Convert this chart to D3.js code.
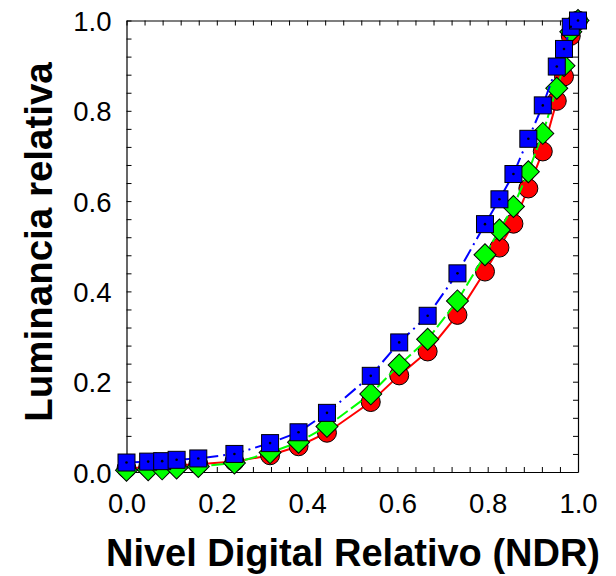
<!DOCTYPE html>
<html>
<head>
<meta charset="utf-8">
<script src="https://cdn.jsdelivr.net/npm/d3@7"></script>
<style>
  html, body { margin: 0; padding: 0; background: #fff; }
  svg { display: block; }
</style>
</head>
<body>
<svg id="chart" width="616" height="576"></svg>
<script>
// ---- data ----
const ndr   = [0, 0.048, 0.079, 0.111, 0.159, 0.239, 0.318, 0.381, 0.444, 0.541, 0.604, 0.667, 0.733, 0.794, 0.826, 0.857, 0.890, 0.922, 0.953, 0.969, 0.984, 1.0];
const red   = [0.008, 0.011, 0.013, 0.015, 0.017, 0.023, 0.037, 0.057, 0.087, 0.155, 0.214, 0.267, 0.348, 0.444, 0.497, 0.550, 0.628, 0.710, 0.822, 0.876, 0.966, 1.0];
const green = [0.004, 0.005, 0.007, 0.009, 0.012, 0.020, 0.043, 0.066, 0.101, 0.173, 0.237, 0.294, 0.379, 0.481, 0.536, 0.588, 0.665, 0.750, 0.850, 0.900, 0.975, 1.0];
const blue  = [0.021, 0.023, 0.024, 0.027, 0.030, 0.040, 0.064, 0.088, 0.131, 0.213, 0.287, 0.346, 0.440, 0.549, 0.604, 0.660, 0.738, 0.812, 0.898, 0.937, 0.986, 1.0];
const tickValues = [0.0, 0.2, 0.4, 0.6, 0.8, 1.0];
const xTitle = "Nivel Digital Relativo (NDR)";
const yTitle = "Luminancia relativa";

// ---- layout ----
const svg = d3.select("#chart");
const pLeft = 126.5, pRight = 578, pTop = 20.5, pBottom = 472;
const x = d3.scaleLinear().domain([0, 1]).range([pLeft, pRight]);
const y = d3.scaleLinear().domain([0, 1]).range([pBottom, pTop]);
const minor = d3.range(0, 26).map(i => +(i * 0.04).toFixed(2));
const isMajor = d => tickValues.some(t => Math.abs(t - d) < 1e-9);
const fmt = d3.format(".1f");
const tickFont = "Liberation Sans, Arial, sans-serif";

// axes
const gx = svg.append("g").attr("transform", `translate(0,${pBottom})`)
  .call(d3.axisBottom(x).tickValues(minor).tickSize(-5).tickSizeOuter(0)
    .tickFormat(d => isMajor(d) ? fmt(d) : ""));
gx.selectAll("text").attr("y", 41).attr("dy", 0)
  .style("font-family", tickFont).style("font-size", "27.5px").attr("fill", "#000");

const gy = svg.append("g").attr("transform", `translate(${pLeft},0)`)
  .call(d3.axisLeft(y).tickValues(minor).tickSize(-5).tickSizeOuter(0)
    .tickFormat(d => isMajor(d) ? fmt(d) : ""));
gy.selectAll("text").attr("x", -15).attr("dy", 10)
  .style("font-family", tickFont).style("font-size", "27.5px").attr("fill", "#000");

svg.append("g").attr("transform", `translate(0,${pTop})`)
  .call(d3.axisTop(x).tickValues(minor).tickSize(-5).tickSizeOuter(0).tickFormat(""));
svg.append("g").attr("transform", `translate(${pRight},0)`)
  .call(d3.axisRight(y).tickValues(minor).tickSize(-5).tickSizeOuter(0).tickFormat(""));

svg.selectAll(".domain").attr("stroke", "#000").attr("stroke-width", 1.2);
svg.selectAll(".tick line").attr("stroke", "#000").attr("stroke-width", 1);

// titles
svg.append("text").attr("x", 353).attr("y", 566).attr("text-anchor", "middle")
  .style("font-family", tickFont).style("font-size", "38px").style("font-weight", "bold")
  .text(xTitle);
svg.append("text").attr("transform", "translate(52,242) rotate(-90)").attr("text-anchor", "middle")
  .style("font-family", tickFont).style("font-size", "38.5px").style("font-weight", "bold")
  .text(yTitle);

// ---- series ----
const line = d3.line().x(d => x(d[0])).y(d => y(d[1]));
const pts = vals => ndr.map((v, i) => [v, vals[i]]);

// red
svg.append("path").datum(pts(red)).attr("d", line)
  .attr("fill", "none").attr("stroke", "#ff0000").attr("stroke-width", 2);
svg.append("g").selectAll("circle").data(pts(red)).join("circle")
  .attr("cx", d => x(d[0])).attr("cy", d => y(d[1])).attr("r", 9.5)
  .attr("fill", "#ff0000").attr("stroke", "#000").attr("stroke-width", 1);

// green
svg.append("path").datum(pts(green)).attr("d", line)
  .attr("fill", "none").attr("stroke", "#00ff00").attr("stroke-width", 2)
  .attr("stroke-dasharray", "13,4");
svg.append("g").selectAll("path").data(pts(green)).join("path")
  .attr("d", d3.symbol(d3.symbolSquare, 242))
  .attr("transform", d => `translate(${x(d[0])},${y(d[1])}) rotate(45)`)
  .attr("fill", "#00ff00").attr("stroke", "#000").attr("stroke-width", 1);

// blue
svg.append("path").datum(pts(blue)).attr("d", line)
  .attr("fill", "none").attr("stroke", "#0000ff").attr("stroke-width", 2)
  .attr("stroke-dasharray", "14,5,2,5");
svg.append("g").selectAll("rect").data(pts(blue)).join("rect")
  .attr("x", d => x(d[0]) - 8.5).attr("y", d => y(d[1]) - 8.5)
  .attr("width", 17).attr("height", 17)
  .attr("fill", "#0000ff").attr("stroke", "#000").attr("stroke-width", 1);
svg.append("g").selectAll("circle").data(pts(blue)).join("circle")
  .attr("cx", d => x(d[0])).attr("cy", d => y(d[1])).attr("r", 1.3)
  .attr("fill", "#000");
</script>
</body>
</html>
